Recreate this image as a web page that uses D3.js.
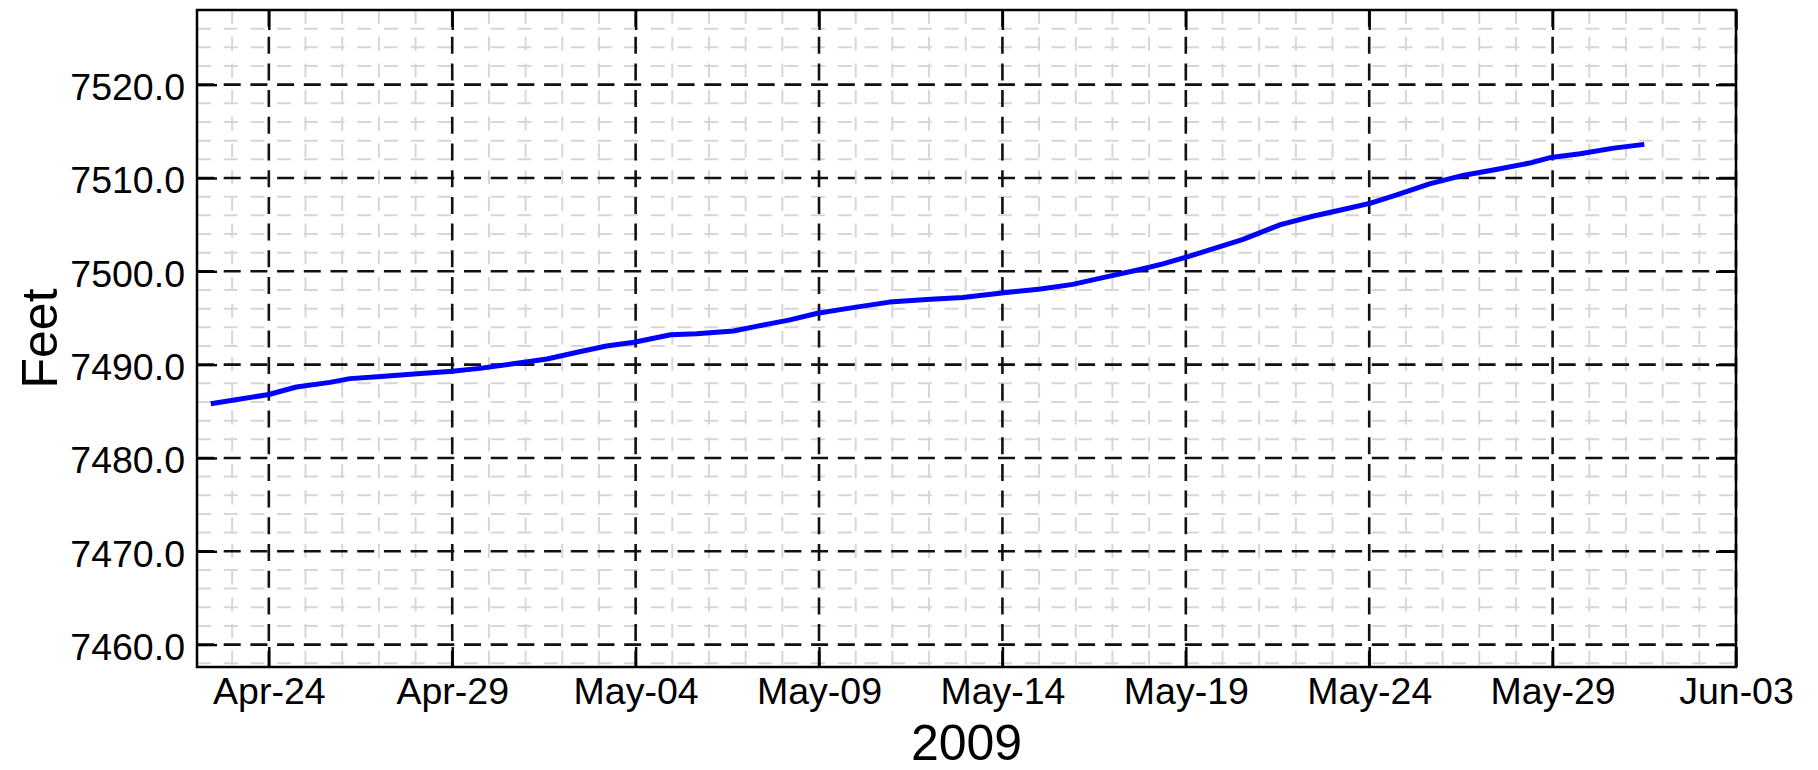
<!DOCTYPE html>
<html>
<head>
<meta charset="utf-8">
<script src="https://cdn.jsdelivr.net/npm/d3@7"></script>
<style>
  body { margin: 0; background: #fff; }
  text { font-family: "Liberation Sans", Arial, sans-serif; fill: #000; }
</style>
</head>
<body>
<svg id="chart" width="1818" height="770"></svg>
<script>
// reservoir elevation readings (UTC)
const times = [
  "2009-04-22T10:00", "2009-04-24T00:00", "2009-04-24T18:00", "2009-04-25T16:00",
  "2009-04-26T05:00", "2009-04-26T23:00", "2009-04-27T23:00", "2009-04-29T00:00",
  "2009-04-29T18:00", "2009-04-30T16:00", "2009-05-01T14:00", "2009-05-02T12:00",
  "2009-05-03T05:00", "2009-05-03T23:00", "2009-05-04T23:00", "2009-05-05T16:00",
  "2009-05-06T16:00", "2009-05-07T07:00", "2009-05-08T05:00", "2009-05-08T23:00",
  "2009-05-09T18:00", "2009-05-10T22:00", "2009-05-12T01:00", "2009-05-12T22:00",
  "2009-05-14T01:00", "2009-05-15T01:00", "2009-05-15T22:00", "2009-05-16T20:00",
  "2009-05-17T18:00", "2009-05-18T09:00", "2009-05-19T02:00", "2009-05-20T13:00",
  "2009-05-21T14:00", "2009-05-22T11:00", "2009-05-23T09:00", "2009-05-24T01:00",
  "2009-05-24T18:00", "2009-05-25T16:00", "2009-05-26T14:00", "2009-05-27T11:00",
  "2009-05-28T09:00", "2009-05-28T23:00", "2009-05-29T18:00", "2009-05-30T16:00",
  "2009-05-31T12:00"
];
const elevation = [
  7485.8, 7486.8, 7487.6, 7488.1,
  7488.5, 7488.7, 7489.0, 7489.3,
  7489.6, 7490.1, 7490.6, 7491.4,
  7492.0, 7492.4, 7493.2, 7493.3,
  7493.6, 7494.1, 7494.8, 7495.5,
  7496.0, 7496.7, 7497.0, 7497.2,
  7497.7, 7498.1, 7498.6, 7499.4,
  7500.2, 7500.8, 7501.6, 7503.4,
  7505.0, 7505.9, 7506.7, 7507.3,
  7508.2, 7509.4, 7510.3, 7510.9,
  7511.6, 7512.2, 7512.6, 7513.2,
  7513.6
];

const xTickLabels = ["2009-04-24", "2009-04-29", "2009-05-04", "2009-05-09", "2009-05-14",
                     "2009-05-19", "2009-05-24", "2009-05-29", "2009-06-03"];
const yTickValues = [7460, 7470, 7480, 7490, 7500, 7510, 7520];
const xDomain = ["2009-04-22T01:00", "2009-06-03T00:00"];
const yDomain = [7457.6, 7528];

const parse = d3.utcParse("%Y-%m-%dT%H:%M");
const parseDay = d3.utcParse("%Y-%m-%d");

let pl = 197, pr = 1736, pt = 10, pb = 667;

let x = d3.scaleUtc().domain(xDomain.map(parse)).range([pl, pr]);
let y = d3.scaleLinear().domain(yDomain).range([pb, pt]);

let svg = d3.select("#chart");

let majorX = xTickLabels.map(parseDay);
let minorX = d3.utcDay.range(x.domain()[0], x.domain()[1])
  .filter(d => !majorX.some(m => +m === +d));
let minorY = d3.range(7458, 7529, 2).filter(v => v % 10 !== 0);

// light minor grid
let grid = svg.append("g");
grid.selectAll(".vmin").data(minorX).enter().append("line")
    .attr("x1", d => x(d)).attr("x2", d => x(d))
    .attr("y1", pt).attr("y2", pb)
    .attr("stroke", "#d6d6d6").attr("stroke-width", 2)
    .attr("stroke-dasharray", "14,12.7");
grid.selectAll(".hmin").data(minorY).enter().append("line")
    .attr("x1", pl).attr("x2", pr)
    .attr("y1", d => y(d)).attr("y2", d => y(d))
    .attr("stroke", "#d6d6d6").attr("stroke-width", 2)
    .attr("stroke-dasharray", "14,12.7");

// major dashed grid
grid.selectAll(".vmaj").data(majorX).enter().append("line")
    .attr("x1", d => x(d)).attr("x2", d => x(d))
    .attr("y1", pt).attr("y2", pb)
    .attr("stroke", "#111").attr("stroke-width", 2.6)
    .attr("stroke-dasharray", "17,9.7");
grid.selectAll(".hmaj").data(yTickValues).enter().append("line")
    .attr("x1", pl).attr("x2", pr)
    .attr("y1", d => y(d)).attr("y2", d => y(d))
    .attr("stroke", "#111").attr("stroke-width", 2.6)
    .attr("stroke-dasharray", "17,9.7");

// the series
let line = d3.line().x(d => x(d[0])).y(d => y(d[1]));
svg.append("path")
    .datum(times.map((t, i) => [parse(t), elevation[i]]))
    .attr("d", line)
    .attr("fill", "none")
    .attr("stroke", "#0000ff")
    .attr("stroke-width", 5)
    .attr("stroke-linejoin", "round");

// axes: inward ticks on every side, labels on left and bottom
let fmtX = d3.utcFormat("%b-%d");
let axisStyle = g => {
  g.select(".domain").remove();
  g.selectAll(".tick line").attr("stroke", "#000").attr("stroke-width", 2.4);
  g.selectAll(".tick text").style("font-size", "37.5px")
    .style("font-family", "'Liberation Sans', Arial, sans-serif");
};

svg.append("g").attr("transform", `translate(0,${pb})`)
  .call(d3.axisBottom(x).tickValues(majorX).tickFormat(fmtX).tickSizeInner(-20).tickSizeOuter(0).tickPadding(10))
  .call(axisStyle);
svg.append("g").attr("transform", `translate(0,${pt})`)
  .call(d3.axisTop(x).tickValues(majorX).tickFormat("").tickSizeInner(-20).tickSizeOuter(0))
  .call(axisStyle);
svg.append("g").attr("transform", `translate(${pl},0)`)
  .call(d3.axisLeft(y).tickValues(yTickValues).tickFormat(d3.format(".1f")).tickSizeInner(-20).tickSizeOuter(0).tickPadding(12))
  .call(axisStyle)
  .selectAll(".tick text").attr("x", -12).attr("dy", "0.4em");
svg.append("g").attr("transform", `translate(${pr},0)`)
  .call(d3.axisRight(y).tickValues(yTickValues).tickFormat("").tickSizeInner(-20).tickSizeOuter(0))
  .call(axisStyle);

// frame
svg.append("rect")
    .attr("x", pl).attr("y", pt)
    .attr("width", pr - pl).attr("height", pb - pt)
    .attr("fill", "none").attr("stroke", "#000").attr("stroke-width", 2.5);

svg.append("text")
    .attr("transform", `translate(57,${(pt + pb) / 2}) rotate(-90)`)
    .attr("text-anchor", "middle")
    .style("font-size", "50px")
    .text("Feet");

svg.append("text")
    .attr("x", (pl + pr) / 2).attr("y", 760)
    .attr("text-anchor", "middle")
    .style("font-size", "50px")
    .text("2009");
</script>
</body>
</html>
